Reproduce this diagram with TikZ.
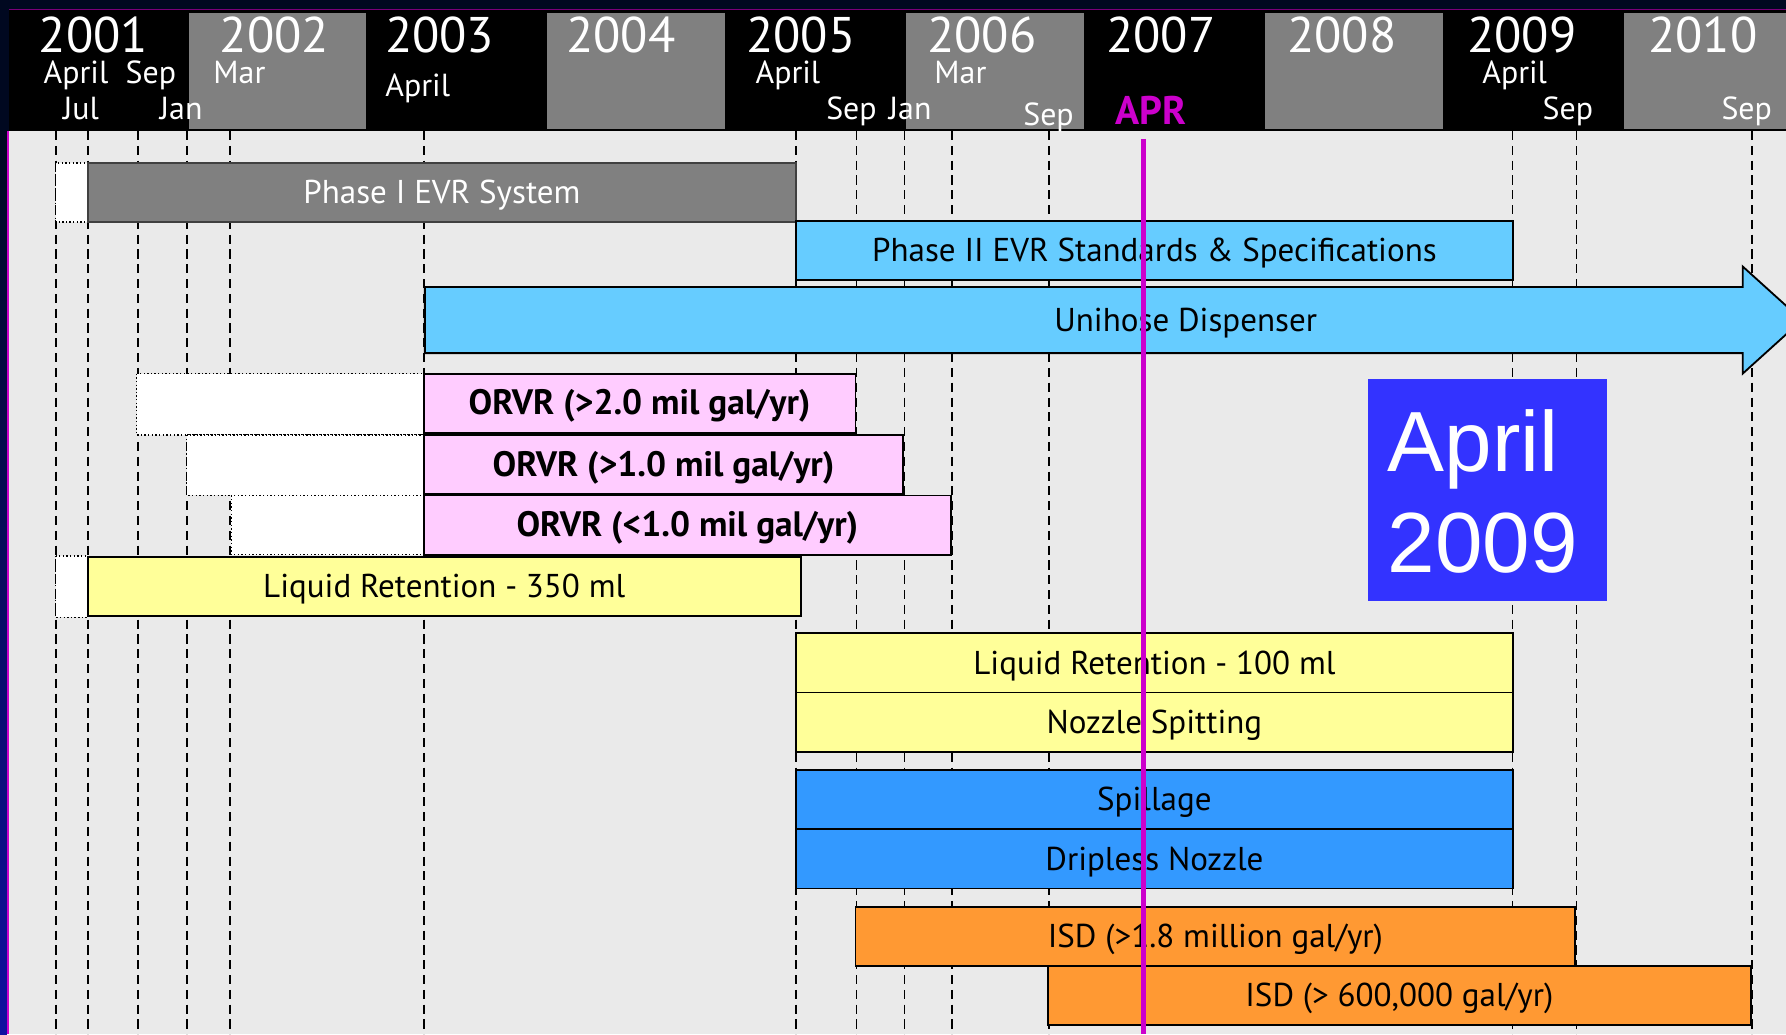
\documentclass[tikz,border=0pt]{standalone}
\usepackage{fontspec}
\setmainfont{PT Sans}
\newfontfamily\arialfont{Liberation Sans}
\usepackage{tikz}

\definecolor{pagenavy}{HTML}{000820}
\definecolor{stripblue}{HTML}{1010A0}
\definecolor{hdrgray}{HTML}{808080}
\definecolor{bggray}{HTML}{EAEAEA}
\definecolor{phaseone}{HTML}{808080}
\definecolor{skyblue}{HTML}{66CCFF}
\definecolor{orvrpink}{HTML}{FFCCFF}
\definecolor{liqyellow}{HTML}{FFFF99}
\definecolor{spillblue}{HTML}{3399FF}
\definecolor{isdorange}{HTML}{FF9933}
\definecolor{boxblue}{HTML}{3333FF}
\definecolor{aprmagenta}{HTML}{CC00CC}

\tikzset{
  evrbar/.style={draw=black, line width=0.8pt, inner sep=0pt, outer sep=0pt,
    minimum height=26pt, text height=10pt, text depth=0pt, font=\fontsize{14.5}{16}\selectfont},
  orvrbar/.style={evrbar, fill=orvrpink, font=\bfseries\fontsize{15.5}{17}\selectfont},
  ghost/.style={draw=black, densely dotted, fill=white, line width=0.6pt},
  gridline/.style={line width=0.7pt, dash pattern=on 4pt off 2.5pt},
  yearlbl/.style={white, anchor=base, inner sep=0pt, font=\fontsize{22}{23}\selectfont},
  monthlbl/.style={white, anchor=base west, inner sep=0pt, font=\fontsize{14}{15}\selectfont}
}

\begin{document}
\begin{tikzpicture}[x=0.5pt, y=-0.5pt]
\useasboundingbox (0,0) rectangle (1568,908);
\clip (0,0) rectangle (1568,908);

% frame and header
\fill[pagenavy] (0,0) rectangle (1568,908);
\shade[top color=pagenavy, bottom color=stripblue] (0,115) rectangle (6,908);
\fill[bggray] (8,115) rectangle (1568,908);
\draw[aprmagenta, line width=1pt] (7,115) -- (7,908);
\draw[aprmagenta!60!black, line width=0.5pt] (8,8) -- (1568,8);
\fill[black] (8,9) rectangle (1568,115);
\foreach \i in {1,3,5,7,9}
  \fill[hdrgray] ({8+157.5*\i},11) rectangle ({8+157.5*\i+156},113);

\foreach \yr/\xc in {2001/82,2002/241,2003/386,2004/545,2005/703,2006/862,2007/1019,2008/1178,2009/1336,2010/1495}
  \node[yearlbl] (y\yr) at (\xc,46) {\yr};

\node[monthlbl] (apr01) at (38,73) {April};
\node[monthlbl] (jul01) at (55,105) {Jul};
\node[monthlbl] (sep01) at (110,73) {Sep};
\node[monthlbl] (jan02) at (140,105) {Jan};
\node[monthlbl] (mar02) at (187,73) {Mar};
\node[monthlbl] (apr03) at (338,85) {April};
\node[monthlbl] (apr05) at (663,73) {April};
\node[monthlbl] (sep05) at (725,105) {Sep};
\node[monthlbl] (jan06) at (780,105) {Jan};
\node[monthlbl] (mar06) at (820,73) {Mar};
\node[monthlbl] (sep06) at (898,110) {Sep};
\node[monthlbl, aprmagenta, font=\bfseries\fontsize{17.5}{18}\selectfont] (apr07) at (979,109) {APR};
\node[monthlbl] (apr09) at (1301,73) {April};
\node[monthlbl] (sep09) at (1354,105) {Sep};
\node[monthlbl] (sep10) at (1511,105) {Sep};

% month guides
\foreach \xg in {49,77,121,164,202,372,699,752,794,836,921,1328,1384,1538}
  \draw[gridline] (\xg,115) -- (\xg,908);

% bars
\draw[ghost] (49,143) rectangle (77,195);
\node[evrbar, draw=black!75, fill=phaseone, text=white, minimum width=311pt] (phasei) at (388,169) {Phase I EVR System};
\node[evrbar, fill=skyblue, minimum width=314.5pt] (phaseii) at (1013.5,220) {Phase II EVR Standards \& Specifications};

\draw[line width=0.8pt, fill=skyblue] (373,252) -- (1530,252) -- (1530,234) -- (1582,281)
  -- (1530,328) -- (1530,310) -- (373,310) -- cycle;
\node[text height=10pt, text depth=0pt, font=\fontsize{14.5}{16}\selectfont] (unihose) at (1041,281) {Unihose Dispenser};

\draw[ghost] (120,328) rectangle (372,382);
\draw[ghost] (164,382) rectangle (372,435);
\draw[ghost] (203,435) rectangle (372,487);
\node[orvrbar, minimum width=189.5pt] (orvra) at (561.5,354) {ORVR (>2.0 mil gal/yr)};
\node[orvrbar, minimum width=210.5pt] (orvrb) at (582.5,408) {ORVR (>1.0 mil gal/yr)};
\node[orvrbar, minimum width=231.5pt] (orvrc) at (603.5,461) {ORVR (<1.0 mil gal/yr)};

\draw[ghost] (49,488) rectangle (77,542);
\node[evrbar, fill=liqyellow, minimum width=313pt] (liqa) at (390,515) {Liquid Retention - 350 ml};
\node[evrbar, fill=liqyellow, minimum width=314.5pt] (liqb) at (1013.5,582) {Liquid Retention - 100 ml};
\node[evrbar, fill=liqyellow, minimum width=314.5pt] (spit) at (1013.5,634) {Nozzle Spitting};
\node[evrbar, fill=spillblue, minimum width=314.5pt] (spill) at (1013.5,702) {Spillage};
\node[evrbar, fill=spillblue, minimum width=314.5pt] (drip) at (1013.5,754) {Dripless Nozzle};
\node[evrbar, fill=isdorange, minimum width=316pt] (isda) at (1067,822) {ISD (>1.8 million gal/yr)};
\node[evrbar, fill=isdorange, minimum width=308.5pt] (isdb) at (1228.5,874) {ISD (> 600,000 gal/yr)};

% today marker
\node[fill=boxblue, inner sep=0pt, minimum width=105pt, minimum height=97.5pt] (aprbox) at (1306,430.5) {};
\node[anchor=base west, inner sep=0pt, white, align=left, font=\arialfont\fontsize{37.5}{44.5}\selectfont] (aprtext) at (1218,503) {April\\2009};
\coordinate (aprtop) at (1004,122);
\coordinate (aprbot) at (1004,908);
\draw[aprmagenta, line width=2pt] (aprtop) -- (aprbot);
\end{tikzpicture}
\end{document}
